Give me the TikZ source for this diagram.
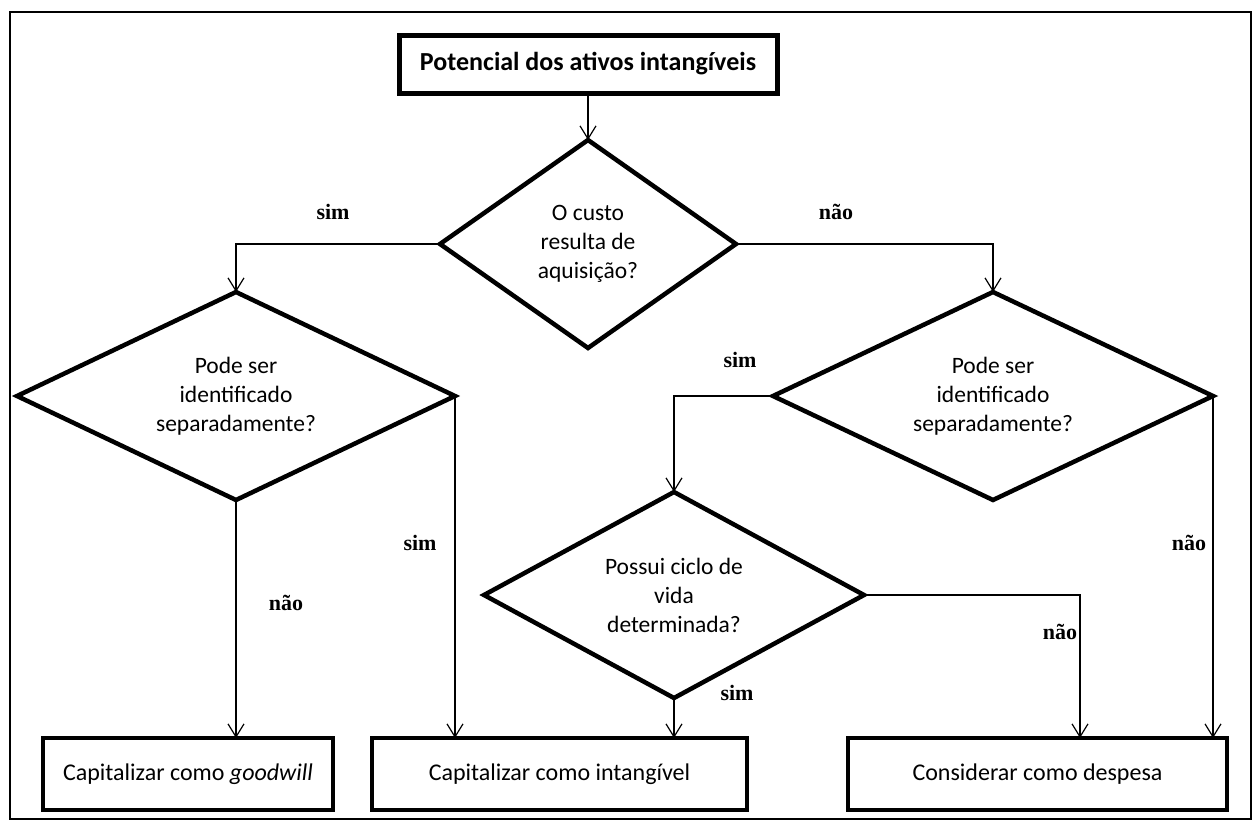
\documentclass[tikz,border=0pt]{standalone}
\usepackage{fontspec}
\setmainfont{Carlito}
\newfontfamily\lblfont{Liberation Serif}
\usetikzlibrary{arrows.meta,shapes.geometric}
\begin{document}
\begin{tikzpicture}[x=1pt,y=-1pt,
  box/.style={draw,rectangle,line width=4.5pt,outer sep=0pt,inner sep=0pt,font=\fontsize{24}{28}\selectfont},
  topbox/.style={box,line width=5pt,font=\bfseries\fontsize{26}{30}\selectfont},
  dia/.style={draw,diamond,line width=4.5pt,outer sep=0pt,inner sep=0pt,align=center,font=\fontsize{23.5}{29}\selectfont},
  conn/.style={line width=1.2pt,-{Straight Barb[length=13pt,width=16pt,line width=1.2pt]}},
  lbl/.style={font=\lblfont\bfseries\fontsize{22}{24}\selectfont}]
\useasboundingbox (0,0) rectangle (1259,820);
\draw[line width=2pt] (10,12) rectangle (1251,819);

\node[topbox,minimum width=378pt,minimum height=58pt] (top) at (588,64) {Potencial dos ativos intangíveis};

\node[dia,aspect=1.42,minimum width=296pt,minimum height=208pt] (d1) at (588,244) {O custo\\resulta de\\aquisição?};
\node[dia,aspect=2.1,minimum width=438pt,minimum height=208pt] (d2) at (236,396) {Pode ser\\identificado\\separadamente?};
\node[dia,aspect=2.1,minimum width=440pt,minimum height=208pt] (d3) at (993,396) {Pode ser\\identificado\\separadamente?};
\node[dia,aspect=1.85,minimum width=380pt,minimum height=206pt] (d4) at (674,595) {Possui ciclo de\\vida\\determinada?};

\node[box,minimum width=290pt,minimum height=72pt] (b1) at (188,774) {Capitalizar como \textit{goodwill}};
\node[box,minimum width=375pt,minimum height=72pt] (b2) at (559.5,774) {Capitalizar como intangível};
\node[box,minimum width=379pt,minimum height=72pt] (b3) at (1037.5,774) {Considerar como despesa};

\coordinate (t4) at (1080,738);

\draw[conn] (top.south) -- (d1.north);
\draw[conn] (d1.west) -| (d2.north);
\draw[conn] (d1.east) -| (d3.north);
\draw[conn] (d2.south) -- (d2.south |- b1.north);
\draw[conn] (d2.east) -- (d2.east |- b2.north);
\draw[conn] (d3.west) -| (d4.north);
\draw[conn] (d3.east) -- (d3.east |- b3.north);
\draw[conn] (d4.south) -- (d4.south |- b2.north);
\draw[conn] (d4.east) -| (t4);

\node[lbl] (l1) at (333,212) {sim};
\node[lbl] (l2) at (836,212) {não};
\node[lbl] (l3) at (740,360) {sim};
\node[lbl] (l4) at (420,543) {sim};
\node[lbl] (l5) at (286,603) {não};
\node[lbl] (l6) at (1189,543) {não};
\node[lbl] (l7) at (1060,632) {não};
\node[lbl] (l8) at (737,693) {sim};
\end{tikzpicture}
\end{document}
